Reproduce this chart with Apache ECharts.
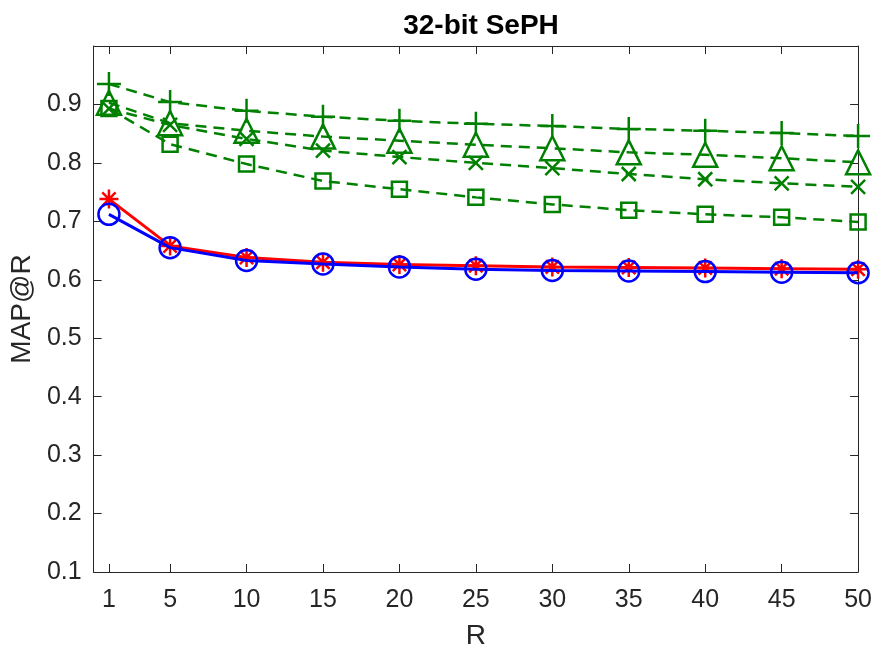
<!DOCTYPE html>
<html>
<head>
<meta charset="utf-8">
<script src="https://cdn.jsdelivr.net/npm/echarts@6/dist/echarts.min.js"></script>
<style>
  html, body { margin: 0; padding: 0; background: #fff; }
  #chart { width: 875px; height: 657px; }
</style>
</head>
<body>
<div id="chart"></div>
<script>
const rValues = [1, 5, 10, 15, 20, 25, 30, 35, 40, 45, 50]
const yTicks = [0.1, 0.2, 0.3, 0.4, 0.5, 0.6, 0.7, 0.8, 0.9]

const redStar = [0.738, 0.658, 0.638, 0.630, 0.626, 0.624, 0.622, 0.621, 0.620, 0.619, 0.618]
const blueCircle = [0.712, 0.655, 0.633, 0.627, 0.622, 0.618, 0.616, 0.615, 0.614, 0.613, 0.612]
const greenPlus = [0.935, 0.904, 0.889, 0.879, 0.872, 0.867, 0.863, 0.858, 0.855, 0.851, 0.846]
const greenTriangle = [0.903, 0.868, 0.855, 0.845, 0.838, 0.831, 0.825, 0.818, 0.814, 0.808, 0.801]
const greenCross = [0.893, 0.865, 0.841, 0.821, 0.810, 0.800, 0.791, 0.781, 0.772, 0.765, 0.759]
const greenSquare = [0.893, 0.832, 0.798, 0.769, 0.755, 0.741, 0.729, 0.719, 0.712, 0.707, 0.699]

const FONT = 'Liberation Sans, Arial, sans-serif'
const AXIS = '#262626'
const GREEN = '#008000'

// stroked marker shapes, matlab style
const PLUS = 'path://M0,5L10,5M5,0L5,10'
const CROSS = 'path://M0,0L10,10M0,10L10,0'
const STAR = 'path://M0,5L10,5M5,0L5,10M1.5,1.5L8.5,8.5M1.5,8.5L8.5,1.5'

const pairs = (ys) => rValues.map((r, i) => [r, ys[i]])

function mkSeries(ys, color, symbol, size, dashed, z) {
  return {
    type: 'line',
    data: pairs(ys),
    symbol,
    symbolSize: size,
    showAllSymbol: true,
    z,
    lineStyle: { color, width: dashed ? 2.5 : 3, type: dashed ? [11, 7] : 'solid' },
    itemStyle: { color: 'transparent', borderColor: color, borderWidth: 2.5 },
    emphasis: { disabled: true },
    animation: false,
  }
}

const xBase = {
  type: 'value', min: 0, max: 50, interval: 5,
  axisLine: { show: true, onZero: false, lineStyle: { color: AXIS, width: 1 } },
  axisTick: { show: true, inside: true, length: 8, customValues: rValues, lineStyle: { color: AXIS } },
  splitLine: { show: false },
}
const yBase = {
  type: 'value', min: 0.1, max: 1.0, interval: 0.1,
  axisLine: { show: true, onZero: false, lineStyle: { color: AXIS, width: 1 } },
  axisTick: { show: true, inside: true, length: 8, customValues: yTicks, lineStyle: { color: AXIS } },
  splitLine: { show: false },
}

const chart = echarts.init(document.getElementById('chart'))
chart.setOption({
  backgroundColor: '#fff',
  animation: false,
  title: {
    text: '32-bit SePH',
    left: 476, top: 7, textAlign: 'center',
    textStyle: { fontFamily: FONT, fontSize: 28, fontWeight: 'bold', color: '#000' },
  },
  grid: { left: 93, right: 16, top: 46, bottom: 85 },
  xAxis: [
    {
      ...xBase, position: 'bottom',
      name: 'R', nameLocation: 'middle', nameGap: 50,
      nameTextStyle: { fontFamily: FONT, fontSize: 28, color: AXIS },
      axisLabel: { customValues: rValues, margin: 16, fontFamily: FONT, fontSize: 25, color: AXIS },
    },
    { ...xBase, position: 'top', axisLabel: { show: false } },
  ],
  yAxis: [
    {
      ...yBase, position: 'left',
      name: 'MAP@R', nameLocation: 'middle', nameGap: 52,
      nameTextStyle: { fontFamily: FONT, fontSize: 28, color: AXIS },
      axisLabel: {
        customValues: yTicks, margin: 12, fontFamily: FONT, fontSize: 25, color: AXIS,
        formatter: (v) => v.toFixed(1),
      },
    },
    { ...yBase, position: 'right', axisLabel: { show: false } },
  ],
  series: [
    mkSeries(greenSquare, GREEN, 'rect', 15, true, 2),
    mkSeries(greenCross, GREEN, CROSS, 14, true, 2),
    mkSeries(greenTriangle, GREEN, 'triangle', 24, true, 2),
    mkSeries(greenPlus, GREEN, PLUS, 24, true, 2),
    mkSeries(redStar, '#ff0000', STAR, 19, false, 3),
    mkSeries(blueCircle, '#0000ff', 'circle', 21, false, 4),
  ],
})
</script>
</body>
</html>
